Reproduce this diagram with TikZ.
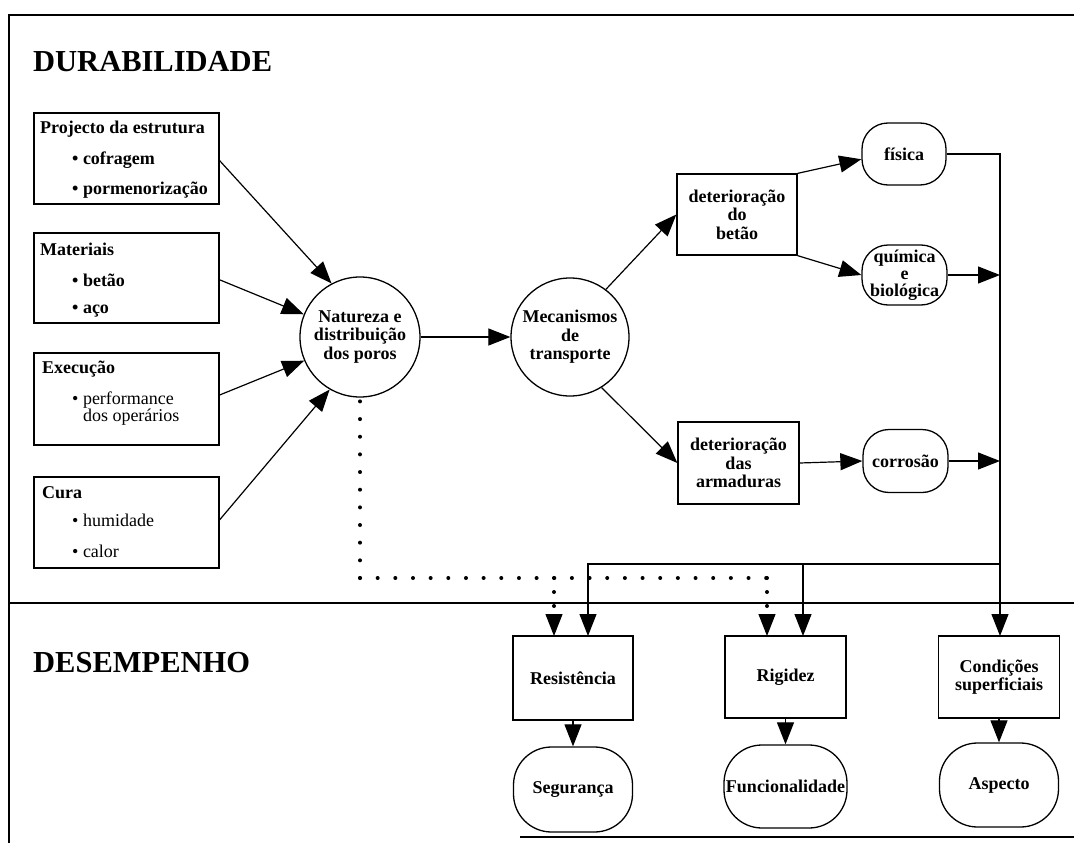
\documentclass[tikz,border=0pt]{standalone}
\usepackage{fontspec}
\setmainfont{Liberation Serif}
\usetikzlibrary{arrows.meta}
\begin{document}
\begin{tikzpicture}[x=1pt,y=-1pt,
  frame/.style={line width=1.4pt},
  arr/.style={line width=1.2pt,-{Triangle[length=22pt,width=17pt]}},
  dotrow/.style={line width=4pt,line cap=round,dash pattern=on 0pt off 17.66pt},
  dotbranch/.style={line width=4pt,line cap=round,dash pattern=on 0pt off 14pt},
  box/.style={draw,line width=1.3pt,rectangle,inner sep=0pt},
  oval/.style={draw,line width=1.3pt,rectangle,inner sep=0pt,rounded corners=26pt},
  bigoval/.style={draw,line width=1.3pt,rectangle,inner sep=0pt,rounded corners=38pt},
  lbl/.style={font=\fontsize{18}{18.5}\selectfont\bfseries,align=center},
  hdr/.style={font=\fontsize{18}{18.5}\selectfont\bfseries,anchor=base west,inner sep=0pt},
  itb/.style={font=\fontsize{18}{18.5}\selectfont\bfseries,anchor=base west,inner sep=0pt},
  itr/.style={font=\fontsize{18}{17}\selectfont,anchor=base west,inner sep=0pt,align=left},
  title/.style={font=\fontsize{30.5}{36}\selectfont\bfseries,anchor=base west,inner sep=0pt}
]
\useasboundingbox (0,0) rectangle (1074,843);
\fill[white] (0,0) rectangle (1074,843);

% frame
\draw[frame] (9,843) -- (9,15) -- (1074,15);
\draw[frame] (520,837) -- (1074,837);
\draw[frame] (9,603) -- (1074,603);

% titles
\node[title] (dur) at (33,72) {DURABILIDADE};
\node[title] (des) at (33,672) {DESEMPENHO};

% left boxes
\node[box,minimum width=185pt,minimum height=91pt] (b1) at (126.5,158.5) {};
\node[hdr] (b1h) at (40,133) {Projecto da estrutura};
\node[itb] (b1a) at (72,164) {\textbullet\ cofragem};
\node[itb] (b1b) at (72,194) {\textbullet\ pormenorização};

\node[box,minimum width=185pt,minimum height=90pt] (b2) at (126.5,278) {};
\node[hdr] (b2h) at (40,255) {Materiais};
\node[itb] (b2a) at (72,286) {\textbullet\ betão};
\node[itb] (b2b) at (72,313) {\textbullet\ aço};

\node[box,minimum width=185pt,minimum height=92pt] (b3) at (126.5,399) {};
\node[hdr] (b3h) at (42,373) {Execução};
\node[itr] (b3a) at (72,421) {\textbullet\ performance\\\phantom{\textbullet\ }dos operários};

\node[box,minimum width=185pt,minimum height=91pt] (b4) at (126.5,522.5) {};
\node[hdr] (b4h) at (42,498) {Cura};
\node[itr] (b4a) at (72,526) {\textbullet\ humidade};
\node[itr] (b4b) at (72,557) {\textbullet\ calor};

% circles
\node[draw,circle,line width=1.3pt,minimum size=120pt,inner sep=0pt,lbl] (nat) at (360,337) {Natureza e\\distribuição\\dos poros};
\node[draw,circle,line width=1.3pt,minimum size=118pt,inner sep=0pt,lbl] (mec) at (570,337) {Mecanismos\\de\\transporte};

% deterioration
\node[box,lbl,minimum width=120pt,minimum height=81pt] (bet) at (737,214.5) {deterioração\\do\\betão};
\node[box,lbl,minimum width=121pt,minimum height=82pt] (arm) at (738.5,463) {deterioração\\das\\armaduras};
\node[oval,lbl,minimum width=84pt,minimum height=62pt] (fis) at (904,154) {física};
\node[oval,lbl,minimum width=85pt,minimum height=60pt,font=\fontsize{18}{17}\selectfont\bfseries] (qui) at (904.5,275) {química\\e\\biológica};
\node[oval,lbl,minimum width=85pt,minimum height=63pt] (cor) at (905.5,461) {corrosão};

% performance
\node[box,lbl,minimum width=120pt,minimum height=84pt] (res) at (573,678) {Resistência};
\node[box,lbl,minimum width=121pt,minimum height=82pt] (rig) at (785.5,677) {Rigidez};
\node[box,lbl,minimum width=121pt,minimum height=82pt] (con) at (999,677) {Condições\\superficiais};
\node[bigoval,lbl,minimum width=119pt,minimum height=85pt] (seg) at (573,789.5) {Segurança};
\node[bigoval,lbl,minimum width=123pt,minimum height=83pt] (fun) at (785.5,786.5) {Funcionalidade};
\node[bigoval,lbl,minimum width=119pt,minimum height=84pt] (asp) at (999,785) {Aspecto};

% coordinates
\coordinate (rv) at (1000,154);
\coordinate (hz) at (1000,564);
\coordinate (dcorner) at (360,578);
\coordinate (drow) at (0,578);
\coordinate (dend) at (0,608);
\coordinate (astart) at (0,614);
\coordinate (resA) at (554,636);
\coordinate (resB) at (588,636);
\coordinate (rigA) at (767,636);
\coordinate (rigB) at (803,636);
\coordinate (conT) at (1000,636);

% inputs to Natureza
\draw[arr] ([yshift=-1pt]b1.east |- b1a) -- (nat.118);
\draw[arr] (b2.east |- b2a) -- (nat.158);
\draw[arr] ([yshift=4pt]b3.east) -- (nat.203);
\draw[arr] (b4.east |- b4a) -- (nat.240);

\draw[arr] (nat.east) -- (mec.west);
\draw[arr] (mec.53) -- (bet.west);
\draw[arr] (mec.-58) -- (arm.west);
\draw[arr] (bet.north east) -- (fis.187);
\draw[arr] (bet.south east) -- (qui.west);
\draw[arr] (arm.east) -- (cor.west);

% right collector
\draw[arr] (fis.east) -| (conT);
\draw[arr] (qui.east) -- (qui.east -| rv);
\draw[arr] (cor.east) -- (cor.east -| rv);
\draw[arr] (hz) -| (resB);
\draw[arr] (rigB |- hz) -- (rigB);

% dotted
\draw[dotrow] (dcorner) -- (nat.south);
\draw[dotrow] (dcorner) -- (rigA |- drow);
\draw[dotbranch] (resA |- drow) -- (resA |- dend);
\draw[dotbranch] (rigA |- drow) -- (rigA |- dend);
\draw[arr] (resA |- astart) -- (resA);
\draw[arr] (rigA |- astart) -- (rigA);

% bottom arrows
\draw[arr] (res.south) -- (seg.north);
\draw[arr] (rig.south) -- (fun.north);
\draw[arr] (con.south) -- (asp.north);
\end{tikzpicture}
\end{document}
